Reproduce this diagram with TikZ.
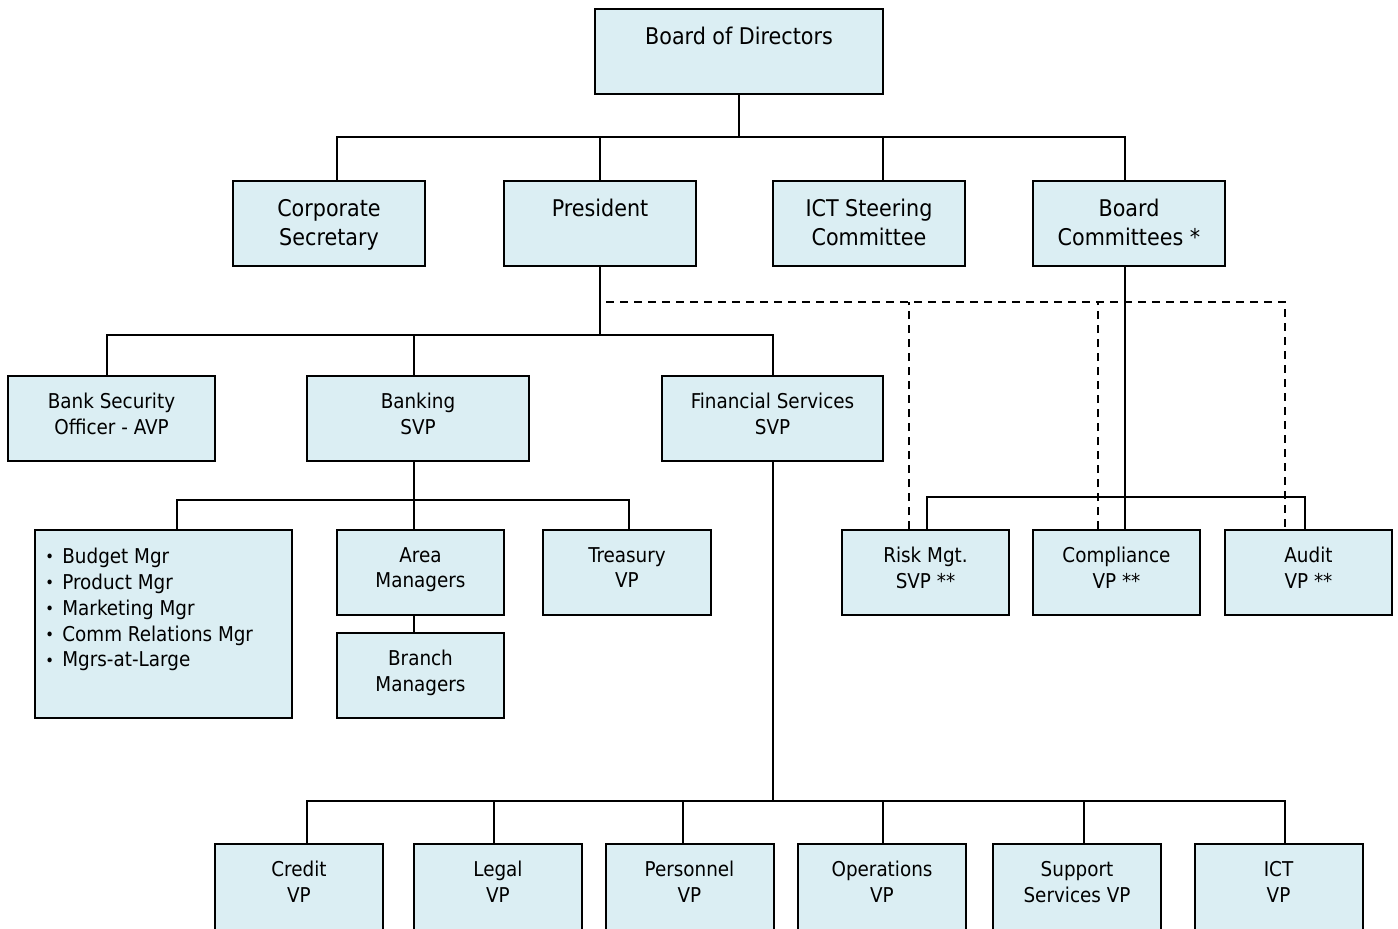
\documentclass[tikz,border=0pt]{standalone}
\usepackage{fontspec}
\setmainfont{DejaVu Sans Condensed}
\definecolor{unitblue}{RGB}{219,238,243}
\newcommand{\itemdot}{\makebox[8.5pt][l]{\raisebox{0.4pt}{\scalebox{0.8}{\textbullet}}}}
\tikzset{
  unit/.style={draw=black,fill=unitblue,line width=1pt,inner sep=0pt,minimum height=42.5pt},
  toptext/.style={anchor=north,align=center,inner sep=0pt,yshift=-9.3pt,font=\fontsize{11.5}{14.5}\selectfont},
  subtext/.style={anchor=north,align=center,inner sep=0pt,yshift=-8.9pt,font=\fontsize{10.2}{12.9}\selectfont},
  link/.style={line width=1pt},
  advisory/.style={line width=1pt,dash pattern=on 4pt off 3pt},
}
\begin{document}
\begin{tikzpicture}[x=0.5pt,y=-0.5pt]
        \useasboundingbox (0,0) rectangle (1398,928);
        %% Board
        \node[unit,minimum width=144pt,label={[toptext]90:Board of Directors}] (bod) at (739,51.5) {};
        %% Second row
        \node[unit,minimum width=96pt,label={[toptext]90:Corporate\\Secretary}] (cs) at (329,223.5) {};
        \node[unit,minimum width=96pt,label={[toptext]90:President}] (pres) at (600,223.5) {};
        \node[unit,minimum width=96pt,label={[toptext]90:ICT Steering\\Committee}] (ict) at (869,223.5) {};
        \node[unit,minimum width=96pt,label={[toptext]90:Board\\Committees *}] (bc) at (1129,223.5) {};
        %% Third row
        \node[unit,minimum width=103.5pt,label={[subtext]90:Bank Security\\Officer - AVP}] (bso) at (111.5,418.5) {};
        \node[unit,minimum width=111pt,label={[subtext]90:Banking\\SVP}] (bank) at (418,418.5) {};
        \node[unit,minimum width=110.5pt,label={[subtext]90:Financial Services\\SVP}] (fs) at (772.5,418.5) {};
        %% Banking units
        \node[unit,minimum width=128.5pt,minimum height=94pt,
              label={[subtext,anchor=north west,align=left,xshift=-59.25pt,yshift=-0.5pt]90:\itemdot Budget Mgr\\\itemdot Product Mgr\\\itemdot Marketing Mgr\\\itemdot Comm Relations Mgr\\\itemdot Mgrs-at-Large}] (staff) at (163.5,624) {};
        \node[unit,minimum width=83.5pt,label={[subtext]90:Area\\Managers}] (area) at (420.5,572.5) {};
        \node[unit,minimum width=83.5pt,label={[subtext]90:Branch\\Managers}] (branch) at (420.5,675.5) {};
        \node[unit,minimum width=84pt,label={[subtext]90:Treasury\\VP}] (tres) at (627,572.5) {};
        %% Control units
        \node[unit,minimum width=83.5pt,label={[subtext]90:Risk Mgt.\\SVP **}] (risk) at (925.5,572.5) {};
        \node[unit,minimum width=83.5pt,label={[subtext]90:Compliance\\VP **}] (comp) at (1116.5,572.5) {};
        \node[unit,minimum width=83.5pt,label={[subtext]90:Audit\\VP **}] (audit) at (1308.5,572.5) {};
        %% Financial services units
        \node[unit,minimum width=84pt,minimum height=45pt,label={[subtext]90:Credit\\VP}] (credit) at (299,889) {};
        \node[unit,minimum width=84pt,minimum height=45pt,label={[subtext]90:Legal\\VP}] (legal) at (498,889) {};
        \node[unit,minimum width=84pt,minimum height=45pt,label={[subtext]90:Personnel\\VP}] (pers) at (689.5,889) {};
        \node[unit,minimum width=84pt,minimum height=45pt,label={[subtext]90:Operations\\VP}] (ops) at (882,889) {};
        \node[unit,minimum width=84pt,minimum height=45pt,label={[subtext]90:Support\\Services VP}] (supp) at (1077,889) {};
        \node[unit,minimum width=84pt,minimum height=45pt,label={[subtext]90:ICT\\VP}] (ictvp) at (1278.5,889) {};
        %% Bus levels
        \coordinate (topbus) at (0,137);
        \coordinate (liaison) at (0,302);
        \coordinate (presbus) at (0,335);
        \coordinate (auditbus) at (0,497);
        \coordinate (bankbus) at (0,500);
        \coordinate (finbus) at (0,801);
        %% Board links
        \draw[link] (bod.south) -- (bod.south |- topbus);
        \draw[link] ([xshift=4pt]cs.north) |- ([xshift=-2pt]bc.north |- topbus) -- ([xshift=-2pt]bc.north);
        \draw[link] (pres.north) -- (pres.north |- topbus);
        \draw[link] ([xshift=7pt]ict.north) -- ([xshift=7pt]ict.north |- topbus);
        %% President links
        \draw[link] (pres.south) -- (pres.south |- presbus);
        \draw[link] ([xshift=-2.25pt]bso.north) |- (fs.north |- presbus) -- (fs.north);
        \draw[link] ([xshift=-2pt]bank.north) -- ([xshift=-2pt]bank.north |- presbus);
        %% Dotted reporting
        \draw[advisory] ([xshift=3pt]pres.south |- liaison) -- ([xshift=-11.75pt]audit.north |- liaison) -- ([xshift=-11.75pt]audit.north);
        \draw[advisory] ([xshift=-8.25pt]risk.north) -- ([xshift=-8.25pt]risk.north |- liaison);
        \draw[advisory] ([xshift=-9.25pt]comp.north) -- ([xshift=-9.25pt]comp.north |- liaison);
        %% Committee links
        \draw[link] ([xshift=-2pt]bc.south) -- ([xshift=-2pt]bc.south |- comp.north);
        \draw[link] ([xshift=0.75pt]risk.north) |- ([xshift=-1.75pt]audit.north |- auditbus) -- ([xshift=-1.75pt]audit.north);
        %% Banking links
        \draw[link] ([xshift=-2pt]bank.south) -- ([xshift=-2pt]bank.south |- bankbus);
        \draw[link] ([xshift=6.75pt]staff.north) |- ([xshift=1pt]tres.north |- bankbus) -- ([xshift=1pt]tres.north);
        \draw[link] ([xshift=-3.25pt]area.north) -- ([xshift=-3.25pt]area.north |- bankbus);
        \draw[link] ([xshift=-3.25pt]area.south) -- ([xshift=-3.25pt]branch.north);
        %% Financial services links
        \draw[link] (fs.south) -- (fs.south |- finbus);
        \draw[link] ([xshift=4pt]credit.north) |- ([xshift=3.25pt]ictvp.north |- finbus) -- ([xshift=3.25pt]ictvp.north);
        \foreach \n/\s in {legal/-2pt,pers/-3.25pt,ops/0.5pt,supp/3.5pt}
            \draw[link] ([xshift=\s]\n.north) -- ([xshift=\s]\n.north |- finbus);
    \end{tikzpicture}
\end{document}
